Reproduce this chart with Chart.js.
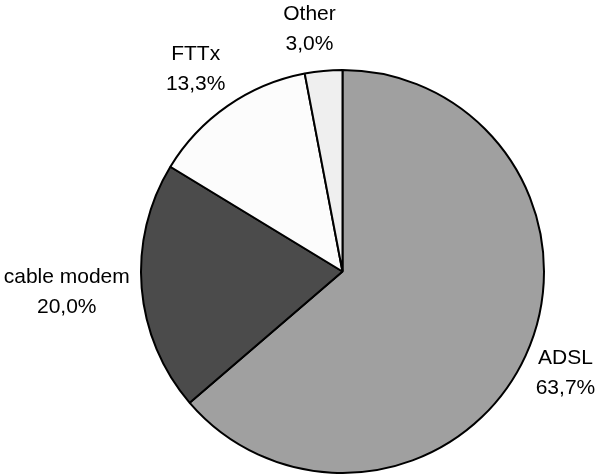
<!DOCTYPE html>
<html>
<head>
<meta charset="utf-8">
<script src="https://cdn.jsdelivr.net/npm/chart.js@4/dist/chart.umd.min.js"></script>
<style>
  html, body { margin: 0; padding: 0; background: #ffffff; }
  #wrap { width: 601px; height: 475px; }
</style>
</head>
<body>
<div id="wrap"><canvas id="pie" width="601" height="475"></canvas></div>
<script>
// Broadband access technologies, share of lines (%)
const categories = ['ADSL', 'cable modem', 'FTTx', 'Other'];
const shares = [63.7, 20.0, 13.3, 3.0];
const sliceColors = ['#a0a0a0', '#4b4b4b', '#fcfcfc', '#efefef'];

const fmtPct = v => v.toFixed(1).replace('.', ',') + '%';

// Draws "name / value" labels outside each slice, pushed out along the slice's mid-angle
const outsideLabels = {
  id: 'outsideLabels',
  afterDatasetsDraw(chart, args, opts) {
    const ctx = chart.ctx;
    const meta = chart.getDatasetMeta(0);
    const ds = chart.data.datasets[0];
    ctx.save();
    ctx.font = opts.font;
    ctx.fillStyle = opts.color;
    ctx.textAlign = 'center';
    ctx.textBaseline = 'middle';
    const sgnPow = (v, p) => Math.sign(v) * Math.pow(Math.abs(v), p);
    meta.data.forEach((arc, i) => {
      const p = arc.getProps(['x', 'y', 'startAngle', 'endAngle', 'outerRadius'], true);
      const mid = (p.startAngle + p.endAngle) / 2;
      const c = Math.cos(mid), s = Math.sin(mid);
      const lines = [chart.data.labels[i], fmtPct(ds.data[i])];
      const w = Math.max(...lines.map(t => ctx.measureText(t).width));
      const h = opts.lineHeight + opts.size;
      const r = p.outerRadius + opts.gap;
      const cx = p.x + r * c + (w / 2) * sgnPow(c, 0.3);
      const cy = p.y + r * s + (h / 2) * sgnPow(s, 0.5) + opts.shiftY;
      ctx.fillText(lines[0], cx, cy - opts.lineHeight / 2);
      ctx.fillText(lines[1], cx, cy + opts.lineHeight / 2);
    });
    ctx.restore();
  }
};

new Chart(document.getElementById('pie'), {
  type: 'pie',
  data: {
    labels: categories,
    datasets: [{
      data: shares,
      backgroundColor: sliceColors,
      borderColor: '#000000',
      borderWidth: 2,
      hoverOffset: 0
    }]
  },
  options: {
    responsive: false,
    animation: false,
    events: [],
    layout: { padding: { left: 140, right: 56, top: 69, bottom: 1 } },
    plugins: {
      legend: { display: false },
      tooltip: { enabled: false },
      outsideLabels: {
        font: '21px "Liberation Sans", Arial, sans-serif',
        size: 21,
        lineHeight: 30,
        gap: 12,
        shiftY: -4,
        color: '#000000'
      }
    }
  },
  plugins: [outsideLabels]
});
</script>
</body>
</html>
